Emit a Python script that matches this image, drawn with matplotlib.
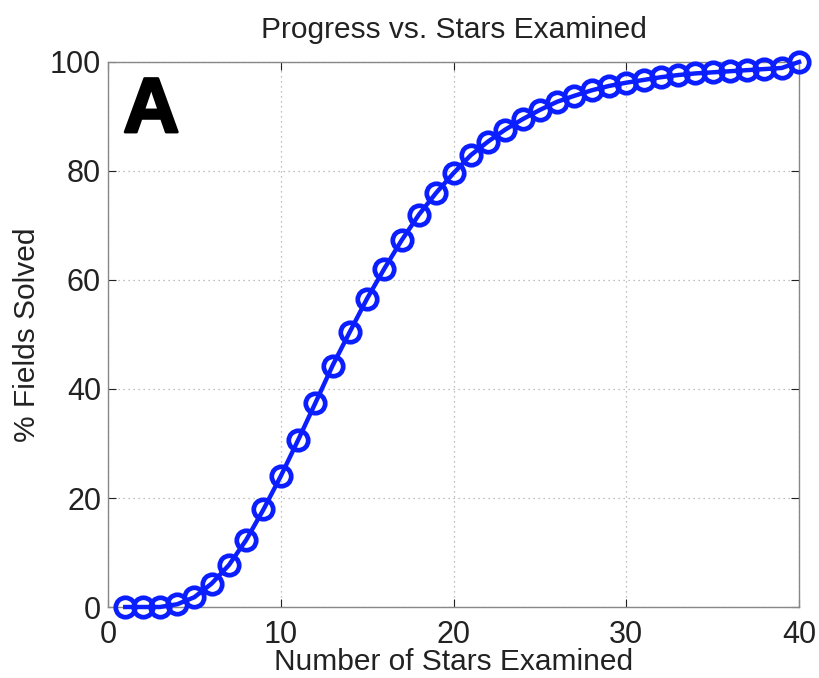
import matplotlib
matplotlib.use("Agg")
import matplotlib.pyplot as plt
import matplotlib.patheffects as pe

# fraction of fields solved after examining n stars
stars = list(range(1, 41))
solved = [
    0.0, 0.0, 0.0, 0.5, 1.8, 4.3, 7.7, 12.3, 17.9, 24.0,
    30.6, 37.4, 44.3, 50.5, 56.6, 62.1, 67.3, 72.0, 76.0, 79.6,
    82.9, 85.4, 87.6, 89.5, 91.2, 92.7, 93.8, 94.8, 95.6, 96.2,
    96.7, 97.2, 97.6, 97.9, 98.1, 98.3, 98.5, 98.7, 98.9, 100.0,
]
x_ticks = [0, 10, 20, 30, 40]
y_ticks = [0, 20, 40, 60, 80, 100]

plt.rcParams["font.family"] = ["Liberation Sans", "DejaVu Sans"]

fig = plt.figure(figsize=(8.2, 6.78), dpi=100)
ax = fig.add_axes([0.1317, 0.1047, 0.8427, 0.8039])

ax.plot(stars, solved, color="#0a1eff", linewidth=3.2, marker="o",
        markersize=14, markerfacecolor="none", markeredgewidth=3.4,
        clip_on=False, zorder=3)

ax.set_xlim(0, 40)
ax.set_ylim(0, 100)
ax.set_xticks(x_ticks)
ax.set_yticks(y_ticks)
ax.tick_params(direction="in", length=6, width=0.8, labelsize=22,
               top=True, right=True, colors="#222222")
ax.tick_params(axis="x", pad=9)
ax.tick_params(axis="y", pad=5)
for s in ax.spines.values():
    s.set_color("#888888")
    s.set_linewidth(1.0)
ax.grid(True, linestyle=(0, (1, 3)), color="#aaaaaa", linewidth=0.9)

ax.set_title("Progress vs. Stars Examined", fontsize=21.5, color="#222222", pad=17)
ax.set_xlabel("Number of Stars Examined", fontsize=21.5, color="#222222", labelpad=-1)
ax.set_ylabel("% Fields Solved", fontsize=21.5, color="#222222", labelpad=6)

ax.text(0.022, 0.976, "A", transform=ax.transAxes, fontsize=56,
        fontweight="bold", va="top", ha="left", color="black",
        path_effects=[pe.withStroke(linewidth=2.0, foreground="black")])

fig.savefig("out.png", dpi=100)
